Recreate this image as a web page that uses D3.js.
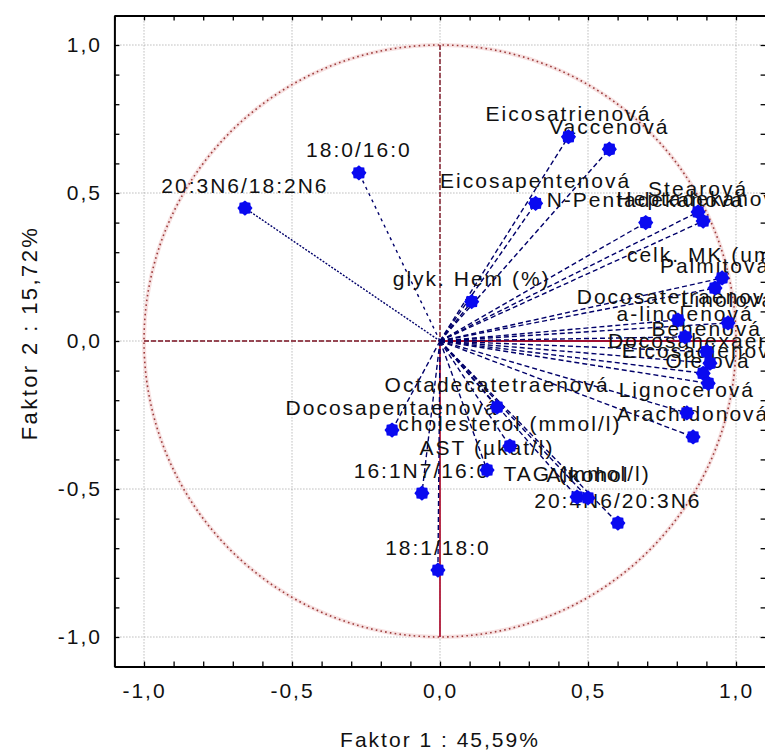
<!DOCTYPE html>
<html>
<head>
<meta charset="utf-8">
<script src="https://cdn.jsdelivr.net/npm/d3@7"></script>
<style>
  body { margin: 0; background: #fff; }
  svg { display: block; }
  text { font-family: "Liberation Sans", Arial, sans-serif; fill: #111; }
</style>
</head>
<body>
<div id="chart"></div>
<script>
/* ==========================================================================
   Data: factor loadings
   ========================================================================== */
const variables = [
    '20:3N6/18:2N6', '18:0/16:0', 'Eicosatrienová', 'Vaccenová', 'Eicosapentenová',
    'N-Pentadekanová', 'Stearová', 'Heptadekanová', 'glyk. Hem (%)', 'celk. MK (umol/l)',
    'Palmitová', 'Docosatetraenová', 'Linolová', 'a-linolenová', 'Behenová',
    'Docosahexaenová', 'Eicosadienová', 'Olejová', 'Lignocerová', 'Arachidonová',
    'Octadecatetraenová', 'Docosapentaenová', 'cholesterol (mmol/l)', 'AST (µkat/l)', '16:1N7/16:0',
    'TAG (mmol/l)', 'Alkohol', '20:4N6/20:3N6', '18:1/18:0'
];
const factor1 = [
    -0.659, -0.274, 0.434, 0.572, 0.323,
    0.695, 0.872, 0.889, 0.107, 0.953,
    0.929, 0.804, 0.973, 0.828, 0.901,
    0.912, 0.889, 0.906, 0.834, 0.855,
    0.193, -0.162, 0.236, 0.159, -0.061,
    0.463, 0.500, 0.601, -0.007
];
const factor2 = [
    0.449, 0.568, 0.690, 0.648, 0.465,
    0.400, 0.436, 0.405, 0.133, 0.213,
    0.179, 0.071, 0.061, 0.014, -0.036,
    -0.075, -0.109, -0.143, -0.243, -0.324,
    -0.223, -0.301, -0.355, -0.436, -0.514,
    -0.527, -0.530, -0.615, -0.774
];
const majorTicks = [-1, -0.5, 0, 0.5, 1];
const xTitle = 'Faktor 1 : 45,59%';
const yTitle = 'Faktor 2 : 15,72%';

/* ==========================================================================
   Setup
   ========================================================================== */
const width = 765, height = 751;
const plot = { left: 114.4, right: 765.6, top: 15.4, bottom: 666.6 };

const x = d3.scaleLinear().domain([-1.1, 1.1]).range([plot.left, plot.right]);
const y = d3.scaleLinear().domain([-1.1, 1.1]).range([plot.bottom, plot.top]);

const svg = d3.select('#chart').append('svg')
    .attr('width', width)
    .attr('height', height);

// comma decimals, plain hyphen minus
const fmt = v => d3.format('.1f')(v).replace('−', '-').replace('.', ',');
const isMajor = v => majorTicks.some(m => Math.abs(m - v) < 1e-6);
const minorTicks = x.ticks(22);

// grid
const grid = svg.append('g').attr('class', 'grid')
    .attr('stroke', '#9a9a9a')
    .attr('stroke-width', 1)
    .attr('stroke-dasharray', '1,2');
grid.selectAll('.gx').data(majorTicks).enter().append('line')
    .attr('x1', d => x(d)).attr('x2', d => x(d))
    .attr('y1', plot.top).attr('y2', plot.bottom);
grid.selectAll('.gy').data(majorTicks).enter().append('line')
    .attr('y1', d => y(d)).attr('y2', d => y(d))
    .attr('x1', plot.left).attr('x2', plot.right);

// unit circle
const circle = svg.append('g').attr('class', 'unit-circle');
circle.append('circle')
    .attr('cx', x(0)).attr('cy', y(0)).attr('r', x(1) - x(0))
    .attr('fill', 'none').attr('stroke', '#f7e2e2').attr('stroke-width', 4);
circle.append('circle')
    .attr('cx', x(0)).attr('cy', y(0)).attr('r', x(1) - x(0))
    .attr('fill', 'none').attr('stroke', '#9c3a3a')
    .attr('stroke-width', 1.6).attr('stroke-dasharray', '1.6,3.2');

// reference lines through origin
const ref = svg.append('g').attr('class', 'ref-lines').attr('stroke', '#7a1020');
ref.append('line')
    .attr('x1', x(-1)).attr('x2', x(0)).attr('y1', y(0)).attr('y2', y(0))
    .attr('stroke-width', 1.4).attr('stroke-dasharray', '5,2');
ref.append('line')
    .attr('x1', x(0)).attr('x2', x(0)).attr('y1', y(1)).attr('y2', y(0))
    .attr('stroke-width', 1.4).attr('stroke-dasharray', '5,2');
ref.append('line')
    .attr('x1', x(0)).attr('x2', x(1)).attr('y1', y(0)).attr('y2', y(0))
    .attr('stroke', '#a01030').attr('stroke-width', 1.8);
ref.append('line')
    .attr('x1', x(0)).attr('x2', x(0)).attr('y1', y(0)).attr('y2', y(-1))
    .attr('stroke', '#b01838').attr('stroke-width', 1.8);

const points = variables.map((name, i) => ({ name, f1: factor1[i], f2: factor2[i] }));

// vectors from origin
svg.append('g').attr('class', 'vectors')
    .selectAll('line').data(points).enter().append('line')
    .attr('x1', x(0)).attr('y1', y(0))
    .attr('x2', d => x(d.f1)).attr('y2', d => y(d.f2))
    .attr('stroke', '#00006a')
    .attr('stroke-width', 1.4)
    .attr('stroke-dasharray', (d, i) => i === 0 ? '2,1.5' : i === 1 ? '3,4' : '5,3');

// labels
svg.append('g').attr('class', 'labels')
    .selectAll('text').data(points).enter().append('text')
    .attr('x', d => x(d.f1))
    .attr('y', d => y(d.f2) - 15.5)
    .attr('text-anchor', 'middle')
    .attr('font-size', 21)
    .attr('letter-spacing', 2)
    .text(d => d.name);

// markers
const star = (() => {
    const n = 16, pts = [];
    for (let k = 0; k < n; k++) {
        const a = k * Math.PI * 2 / n;
        const r = k % 2 ? 6.2 : 7.6;
        pts.push([r * Math.cos(a), r * Math.sin(a)]);
    }
    return 'M' + pts.join('L') + 'Z';
})();
svg.append('g').attr('class', 'markers')
    .selectAll('path').data(points).enter().append('path')
    .attr('transform', d => `translate(${x(d.f1)},${y(d.f2)})`)
    .attr('d', star)
    .attr('fill', '#0a0af0');

/* ==========================================================================
   Axes (ticks inside the frame)
   ========================================================================== */
const axisStyle = g => {
    g.select('.domain').attr('stroke', '#000').attr('stroke-width', 2);
    g.selectAll('.tick line').attr('stroke', '#000').attr('stroke-width', 1.3);
    g.selectAll('.tick text')
        .attr('font-size', 21)
        .attr('letter-spacing', 2)
        .attr('fill', '#111');
};

svg.append('g')
    .attr('transform', `translate(0,${plot.bottom})`)
    .call(d3.axisBottom(x).tickValues(minorTicks).tickSizeInner(-5).tickSizeOuter(0)
        .tickPadding(16).tickFormat(d => isMajor(d) ? fmt(d) : ''))
    .call(axisStyle);

svg.append('g')
    .attr('transform', `translate(${plot.left},0)`)
    .call(d3.axisLeft(y).tickValues(minorTicks).tickSizeInner(-5).tickSizeOuter(0)
        .tickPadding(12.5).tickFormat(d => isMajor(d) ? fmt(d) : ''))
    .call(axisStyle);

svg.append('g')
    .attr('transform', `translate(0,${plot.top})`)
    .call(d3.axisTop(x).tickValues(minorTicks).tickSizeInner(-5).tickSizeOuter(0)
        .tickFormat(''))
    .call(axisStyle);

svg.append('g')
    .attr('transform', `translate(${plot.right},0)`)
    .call(d3.axisRight(y).tickValues(minorTicks).tickSizeInner(-5).tickSizeOuter(0)
        .tickFormat(''))
    .call(axisStyle);

svg.selectAll('.domain').attr('fill', 'none');
svg.selectAll('g text').attr('font-family', '"Liberation Sans", Arial, sans-serif');

// axis titles
svg.append('text')
    .attr('x', x(0)).attr('y', 747)
    .attr('text-anchor', 'middle')
    .attr('font-size', 21)
    .attr('letter-spacing', 2)
    .text(xTitle);

svg.append('text')
    .attr('transform', `translate(37,${y(0) - 8}) rotate(-90)`)
    .attr('text-anchor', 'middle')
    .attr('font-size', 22)
    .attr('letter-spacing', 2.4)
    .text(yTitle);
</script>
</body>
</html>
